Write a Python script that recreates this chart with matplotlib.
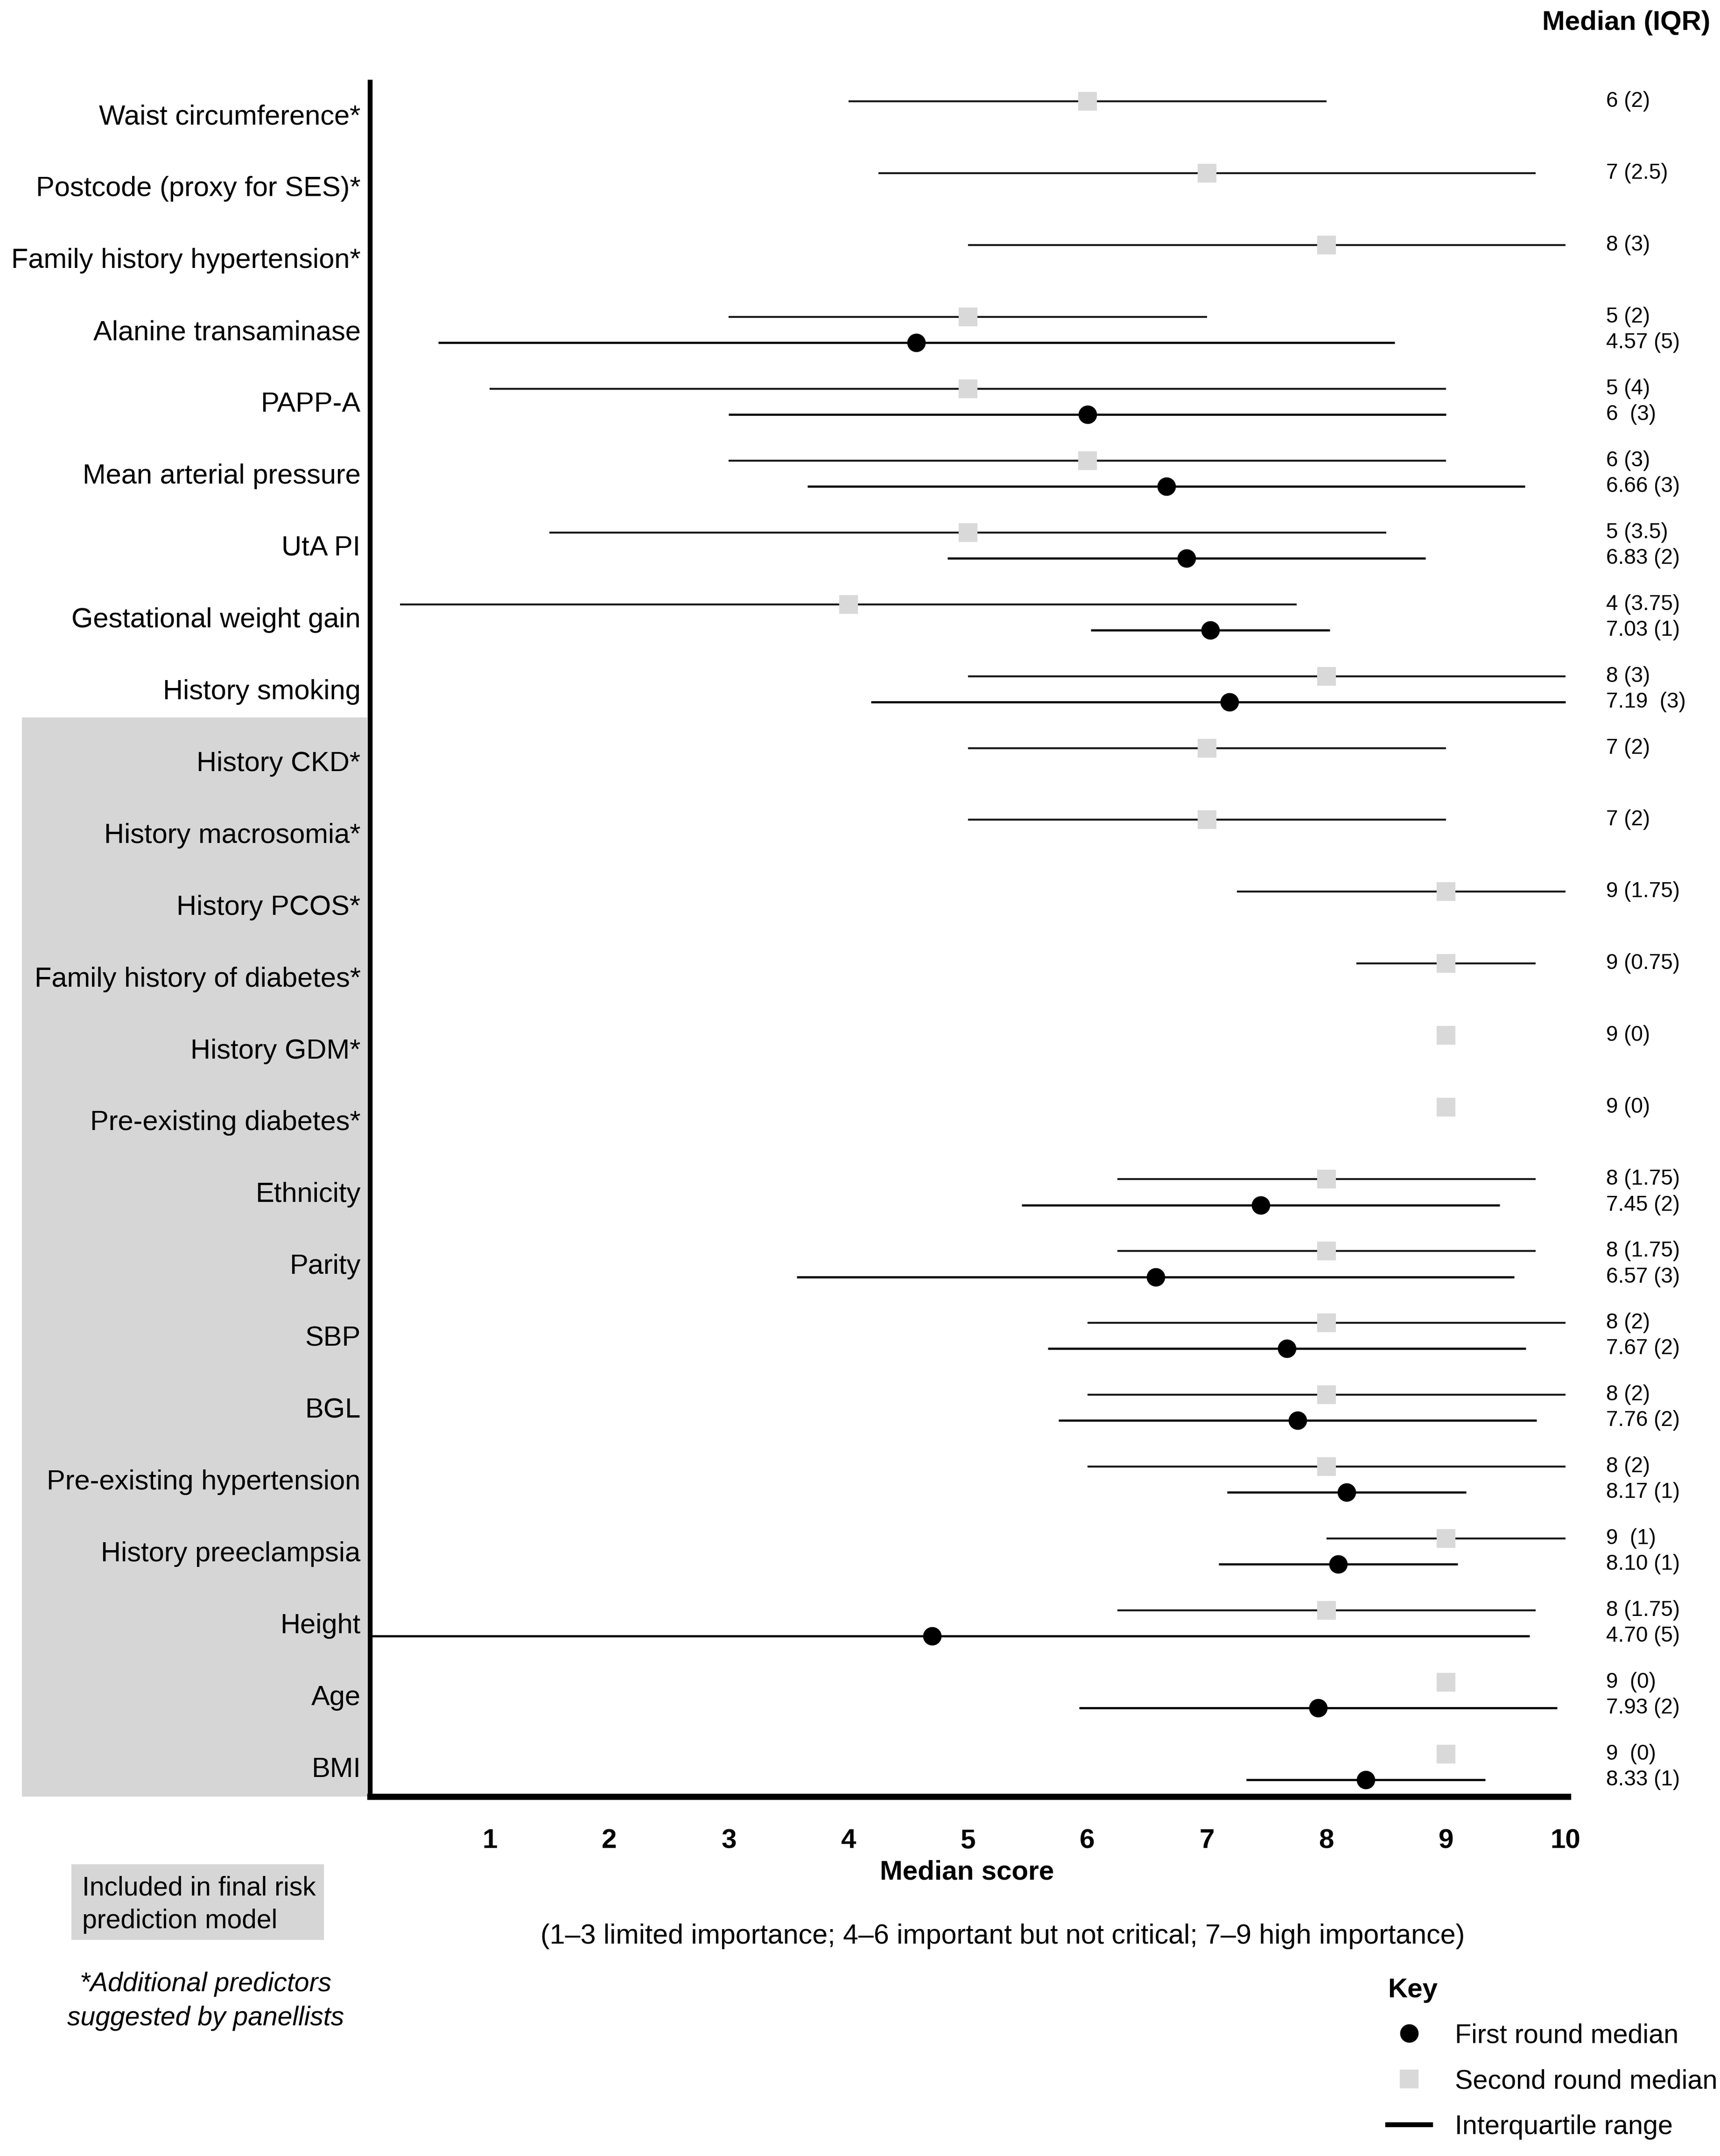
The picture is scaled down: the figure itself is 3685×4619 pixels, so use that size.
import numpy as np
import matplotlib.pyplot as plt
from matplotlib.lines import Line2D
from matplotlib.patches import Rectangle
import matplotlib.transforms as mtransforms

plt.rcParams['font.family'] = ['Liberation Sans', 'DejaVu Sans']

nan = np.nan

labels = ['Waist circumference*', 'Postcode (proxy for SES)*', 'Family history hypertension*',
          'Alanine transaminase', 'PAPP-A', 'Mean arterial pressure', 'UtA PI',
          'Gestational weight gain', 'History smoking', 'History CKD*', 'History macrosomia*',
          'History PCOS*', 'Family history of diabetes*', 'History GDM*', 'Pre-existing diabetes*',
          'Ethnicity', 'Parity', 'SBP', 'BGL', 'Pre-existing hypertension',
          'History preeclampsia', 'Height', 'Age', 'BMI']

# second round (grey squares)
second_med = [6, 7, 8, 5, 5, 6, 5, 4, 8, 7, 7, 9, 9, 9, 9, 8, 8, 8, 8, 8, 9, 8, 9, 9]
second_lo = [4, 4.25, 5, 3, 1, 3, 1.5, 0.25, 5, 5, 5, 7.25, 8.25, nan, nan,
             6.25, 6.25, 6, 6, 6, 8, 6.25, nan, nan]
second_hi = [8, 9.75, 10, 7, 9, 9, 8.5, 7.75, 10, 9, 9, 10, 9.75, nan, nan,
             9.75, 9.75, 10, 10, 10, 10, 9.75, nan, nan]
second_txt = ['6 (2)', '7 (2.5)', '8 (3)', '5 (2)', '5 (4)', '6 (3)', '5 (3.5)', '4 (3.75)',
              '8 (3)', '7 (2)', '7 (2)', '9 (1.75)', '9 (0.75)', '9 (0)', '9 (0)',
              '8 (1.75)', '8 (1.75)', '8 (2)', '8 (2)', '8 (2)', '9  (1)', '8 (1.75)',
              '9  (0)', '9  (0)']

# first round (black circles)
first_med = [nan, nan, nan, 4.57, 6, 6.66, 6.83, 7.03, 7.19, nan, nan, nan, nan, nan, nan,
             7.45, 6.57, 7.67, 7.76, 8.17, 8.10, 4.70, 7.93, 8.33]
first_lo = [nan, nan, nan, 0.57, 3, 3.66, 4.83, 6.03, 4.19, nan, nan, nan, nan, nan, nan,
            5.45, 3.57, 5.67, 5.76, 7.17, 7.10, 0, 5.93, 7.33]
first_hi = [nan, nan, nan, 8.57, 9, 9.66, 8.83, 8.03, 10, nan, nan, nan, nan, nan, nan,
            9.45, 9.57, 9.67, 9.76, 9.17, 9.10, 9.70, 9.93, 9.33]
first_txt = ['', '', '', '4.57 (5)', '6  (3)', '6.66 (3)', '6.83 (2)', '7.03 (1)', '7.19  (3)',
             '', '', '', '', '', '', '7.45 (2)', '6.57 (3)', '7.67 (2)', '7.76 (2)',
             '8.17 (1)', '8.10 (1)', '4.70 (5)', '7.93 (2)', '8.33 (1)']

rows = np.arange(len(labels))
off = 0.18

fig = plt.figure(figsize=(3685 / 300, 4619 / 300), dpi=300)
ax = fig.add_axes([0.2153, 0.1668, 0.6962, 0.7952])

# grey band behind labels of predictors kept in the final model
fig.patches.append(Rectangle((0.0128, 0.1668), 0.2009, 0.5004, transform=fig.transFigure,
                             facecolor='#d6d6d6', edgecolor='none', zorder=-1))

ax.hlines(rows - off, second_lo, second_hi, color='#1a1a1a', lw=1.0, zorder=2)
ax.hlines(rows + off, first_lo, first_hi, color='black', lw=1.1, zorder=2)
ax.plot(second_med, rows - off, ls='none', marker='s', ms=8.5, color='#d9d9d9', zorder=3)
ax.plot(first_med, rows + off, ls='none', marker='o', ms=8.5, color='black', zorder=3)

trans = mtransforms.blended_transform_factory(ax.transAxes, ax.transData)
for i in rows:
    ax.text(1.032, i - off, second_txt[i], transform=trans, fontsize=11, va='center', ha='left')
    if first_txt[i]:
        ax.text(1.032, i + off, first_txt[i], transform=trans, fontsize=11, va='center', ha='left')

ax.set_xlim(0, 10.02)
ax.set_ylim(len(labels) - 1 + 0.41, -0.45)
ax.set_yticks(rows)
ax.set_yticklabels(labels, fontsize=14.3)
ax.set_xticks(range(1, 11))
ax.set_xticklabels([str(v) for v in range(1, 11)], fontsize=14, fontweight='bold')
ax.tick_params(axis='y', length=0, pad=5)
ax.tick_params(axis='x', length=0, pad=16.5)
for s in ['top', 'right']:
    ax.spines[s].set_visible(False)
ax.spines['left'].set_linewidth(2.5)
ax.spines['bottom'].set_linewidth(3.2)

fig.text(0.9455, 0.9893, 'Median (IQR)', fontsize=14, fontweight='bold', ha='center', va='center')
fig.text(0.5622, 0.1315, 'Median score', fontsize=14, fontweight='bold', ha='center', va='center')
fig.text(0.583, 0.1019, '(1\u20133 limited importance; 4\u20136 important but not critical; 7\u20139 high importance)',
         fontsize=14.2, ha='center', va='center')

fig.patches.append(Rectangle((0.0415, 0.1003), 0.1467, 0.035, transform=fig.transFigure,
                             facecolor='#d6d6d6', edgecolor='none'))
fig.text(0.0478, 0.1166, 'Included in final risk\nprediction model', fontsize=13.7,
         ha='left', va='center', linespacing=1.4)
fig.text(0.1196, 0.0717, '*Additional predictors\nsuggested by panellists', fontsize=13.7,
         style='italic', ha='center', va='center', linespacing=1.45)

handles = [Line2D([], [], ls='none', marker='o', ms=8.5, color='black'),
           Line2D([], [], ls='none', marker='s', ms=8.5, color='#d9d9d9'),
           Line2D([], [], color='black', lw=2.5)]
leg = fig.legend(handles, ['First round median', 'Second round median', 'Interquartile range'],
                 title='Key', loc='upper left', bbox_to_anchor=(0.799, 0.089), frameon=False,
                 fontsize=13.8, title_fontproperties={'weight': 'bold', 'size': 14},
                 alignment='left', handlelength=1.6, handletextpad=0.9, labelspacing=0.76,
                 borderpad=0)

fig.savefig('out.png', dpi=300)
